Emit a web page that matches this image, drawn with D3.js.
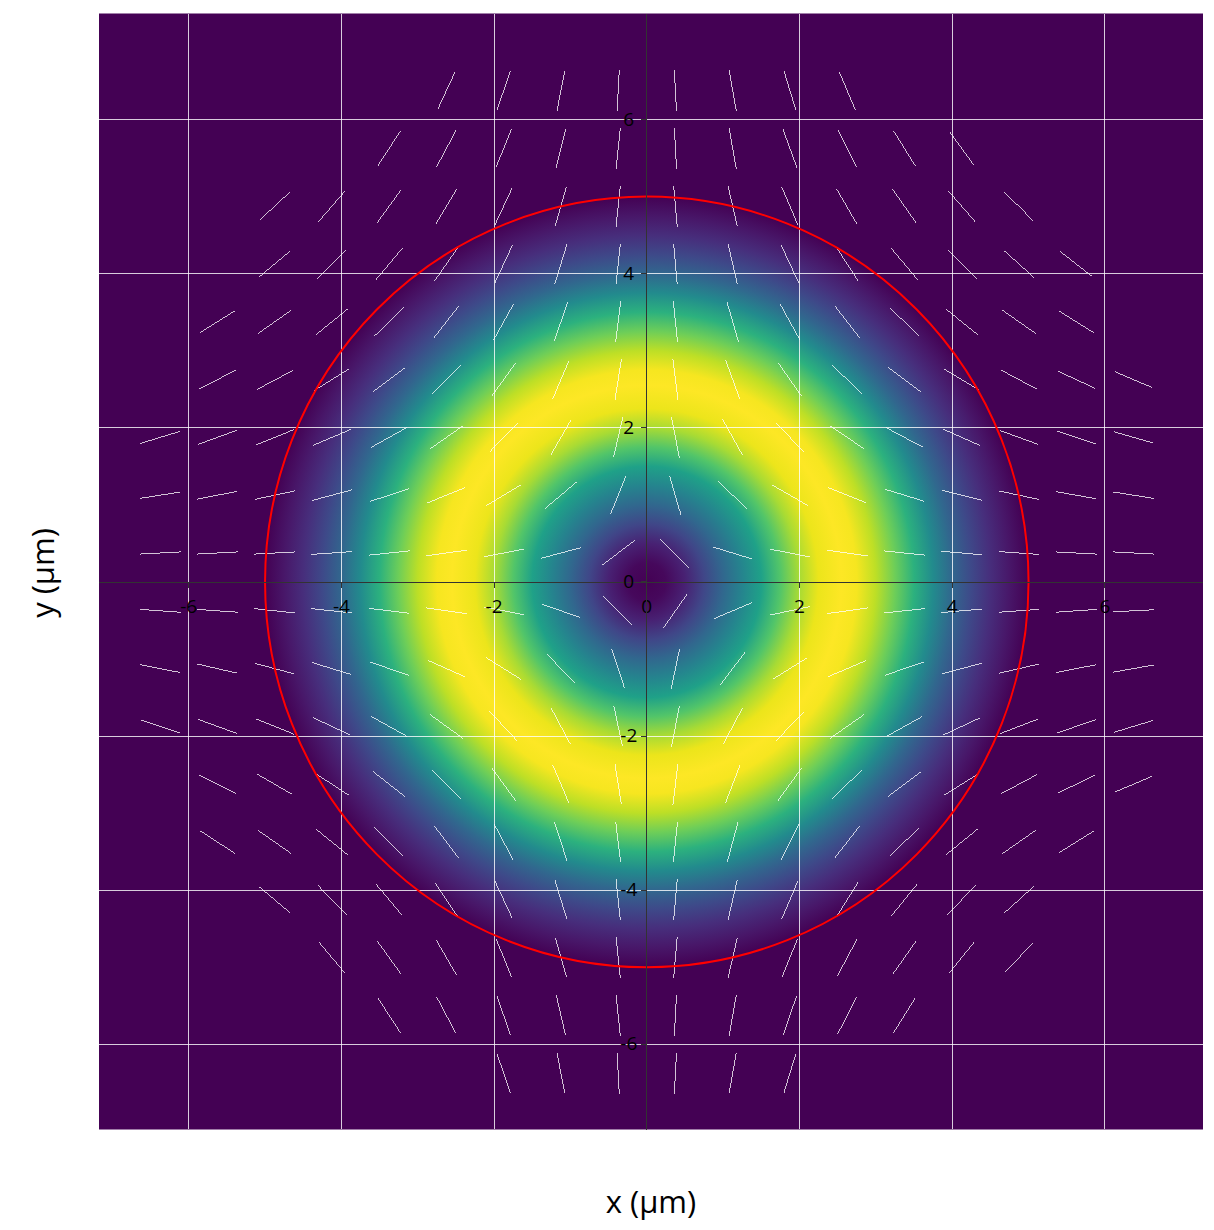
<!DOCTYPE html>
<html>
<head>
<meta charset="utf-8">
<script src="https://d3js.org/d3.v7.min.js"></script>
<style>
  html, body { margin: 0; padding: 0; background: #fff; overflow: hidden; }
  svg { display: block; }
  text { font-family: "Open Sans", sans-serif; fill: #000; }
</style>
</head>
<body>
<script>
// tick labels on both axes
const tickValues = [-6, -4, -2, 0, 2, 4, 6];

// intensity read along the radius of the ring (um -> 0..1 on the colour map)
const profileRadius = [0, 0.25, 0.5, 0.75, 1, 1.25, 1.5, 1.75, 2, 2.25, 2.55, 2.75, 3, 3.25, 3.5, 3.75, 4, 4.25, 4.5, 4.75, 5];
const profileValue = [0, 0.02, 0.09, 0.21, 0.33, 0.45, 0.57, 0.73, 0.87, 0.97, 1, 0.985, 0.9, 0.78, 0.64, 0.48, 0.33, 0.22, 0.13, 0.06, 0];

// red circle
const circleRadius = 5;

// line field: centres and tilt in degrees, null where nothing is drawn
const arrowXs = [-6.375, -5.625, -4.875, -4.125, -3.375, -2.625, -1.875, -1.125, -0.375, 0.375, 1.125, 1.875, 2.625, 3.375, 4.125, 4.875, 5.625, 6.375];
const arrowYs = [6.375, 5.625, 4.875, 4.125, 3.375, 2.625, 1.875, 1.125, 0.375, -0.375, -1.125, -1.875, -2.625, -3.375, -4.125, -4.875, -5.625, -6.375];
const _ = null;
const arrowAngles = [
  [_, _, _, _, _, 65, 71, 79, 87, -87, -80, -73, -67, _, _, _, _, _],
  [_, _, _, _, 57, 62, 68, 76, 84, -87, -80, -70, -64, -58, -54, _, _, _],
  [_, _, 43, 49, 54, 59, 65, 74, 84, -85, -77, -67, -60, -55, -49, -46, _, _],
  [_, _, 40, 45, 50, 55, 65, 73, 84, -85, -77, -65, -57, -50, -45, -42, -38, _],
  [_, 32, 35, 39, 44, 52, 61, 71, 83, -84, -74, -61, -52, -44, -39, -35, -32, _],
  [_, 27, 28, 32, 37, 44, 54, 67, 81, -83, -70, -55, -44, -37, -31, -28, -25, -23],
  [17, 20, 22, 23, 29, 35, 46, 60, 77, -79, -61, -46, -34, -28, -24, -20, -18, -16],
  [9, 11, 12, 15, 18, 22, 31, 40, 68, -74, -44, -30, -22, -17, -14, -12, -10, -9],
  [3, 3, 3, 4, 6, 8, 11, 15, 37, -45, -17, -11, -8, -6, -5, -4, -3, -3],
  [-4, -4, -6, -6, -7, -8, -11, -19, -45, 55, 23, 12, 8, 6, 5, 4, 4, 3],
  [-11, -13, -15, -17, -19, -24, -32, -46, -72, 78, 53, 32, 23, 19, 15, 13, 11, 10],
  [-18, -20, -22, -25, -29, -36, -47, -62, -78, 79, 62, 46, 35, 29, 25, 21, 19, 17],
  [_, -27, -30, -33, -38, -45, -54, -67, -81, 83, 69, 54, 44, 37, 32, 28, 26, 23],
  [_, -33, -35, -39, -45, -53, -62, -72, -83, 84, 75, 63, 52, 44, 39, 35, 32, _],
  [_, _, -40, -46, -50, -56, -65, -73, -84, 85, 77, 67, 58, 51, 46, 42, _, _],
  [_, _, _, -50, -54, -60, -68, -74, -84, 85, 77, 68, 62, 55, 51, 46, _, _],
  [_, _, _, _, -57, -62, -71, -77, -84, 87, 80, 71, 63, 58, _, _, _, _],
  [_, _, _, _, _, _, -71, -79, -87, 87, 80, 73, _, _, _, _, _, _]
];

const width = 1214, height = 1230;
const left = 99, right = 1203, top_ = 14, bottom = 1129;
const arrowLen = 41;

const x = d3.scaleLinear().domain([-7.175, 7.285]).range([left, right]);
const y = d3.scaleLinear().domain([-7.1, 7.37]).range([bottom, top_]);

const svg = d3.select("body").append("svg")
    .attr("width", width)
    .attr("height", height);

// background = bottom of the colour map
svg.append("rect")
    .attr("x", left)
    .attr("y", top_ - 0.5)
    .attr("width", right - left)
    .attr("height", bottom - top_ + 1)
    .attr("fill", d3.interpolateViridis(0));

// ring, a radial gradient built from the profile
const grad = svg.append("defs").append("radialGradient").attr("id", "ring");
grad.selectAll("stop")
    .data(profileRadius)
    .enter()
    .append("stop")
    .attr("offset", d => d / circleRadius)
    .attr("stop-color", (d, i) => d3.interpolateViridis(profileValue[i]));

svg.append("ellipse")
    .attr("cx", x(0))
    .attr("cy", y(0))
    .attr("rx", x(circleRadius) - x(0))
    .attr("ry", y(0) - y(circleRadius))
    .attr("fill", "url(#ring)");

// grid
const grid = svg.append("g")
    .attr("stroke", "#fff")
    .attr("stroke-opacity", 0.8)
    .attr("shape-rendering", "crispEdges");

grid.selectAll(".vgrid")
    .data(tickValues.filter(d => d != 0))
    .enter()
    .append("line")
    .attr("class", "vgrid")
    .attr("x1", d => x(d)).attr("x2", d => x(d))
    .attr("y1", top_).attr("y2", bottom);

grid.selectAll(".hgrid")
    .data(tickValues.filter(d => d != 0))
    .enter()
    .append("line")
    .attr("class", "hgrid")
    .attr("x1", left).attr("x2", right)
    .attr("y1", d => y(d)).attr("y2", d => y(d));

// line field
const arrows = [];
arrowYs.forEach(function(yv, r) {
    arrowXs.forEach(function(xv, c) {
        if (arrowAngles[r][c] !== null) arrows.push({ x: xv, y: yv, a: arrowAngles[r][c] * Math.PI / 180 });
    });
});

svg.append("g").selectAll("line")
    .data(arrows)
    .enter()
    .append("line")
    .attr("x1", d => x(d.x) - Math.cos(d.a) * arrowLen / 2)
    .attr("y1", d => y(d.y) + Math.sin(d.a) * arrowLen / 2)
    .attr("x2", d => x(d.x) + Math.cos(d.a) * arrowLen / 2)
    .attr("y2", d => y(d.y) - Math.sin(d.a) * arrowLen / 2)
    .attr("stroke", "#fff")
    .attr("stroke-opacity", 0.9)
    .attr("stroke-width", 0.85)
    .attr("shape-rendering", "crispEdges");

// red circle
svg.append("ellipse")
    .attr("cx", x(0))
    .attr("cy", y(0))
    .attr("rx", x(circleRadius) - x(0))
    .attr("ry", y(0) - y(circleRadius))
    .attr("fill", "none")
    .attr("stroke", "#f00")
    .attr("stroke-width", 2);

// axes cross at the origin, labels stay inside the plot
const xAxis = d3.axisBottom(x).tickValues(tickValues).tickFormat(d => d).tickSize(6).tickPadding(11).offset(0);
const yAxis = d3.axisLeft(y).tickValues(tickValues).tickFormat(d => d).tickSize(6).tickPadding(11).offset(0);

const gx = svg.append("g").attr("transform", "translate(0," + (y(0) + 0.5) + ")").call(xAxis);
const gy = svg.append("g").attr("transform", "translate(" + x(0) + ",0)").call(yAxis);

[gx, gy].forEach(function(g) {
    g.selectAll("path, line")
        .attr("stroke", "#333")
        .attr("shape-rendering", "crispEdges");
    g.selectAll("text")
        .style("font-family", '"Open Sans", sans-serif')
        .style("font-size", "19px")
        .attr("fill", "#000");
});
gx.select(".domain").attr("d", "M" + left + ",0H" + right);
gy.select(".domain").attr("d", "M0," + top_ + "V" + (bottom + 1));
// y labels are centred in their own column
gy.selectAll("text").attr("text-anchor", "middle").attr("x", -18);

// axis titles
svg.append("text")
    .attr("x", 651)
    .attr("y", 1213)
    .attr("text-anchor", "middle")
    .style("font-size", "31px")
    .text("x (µm)");

svg.append("text")
    .attr("transform", "translate(54,573) rotate(-90)")
    .attr("text-anchor", "middle")
    .style("font-size", "31px")
    .text("y (µm)");
</script>
</body>
</html>
